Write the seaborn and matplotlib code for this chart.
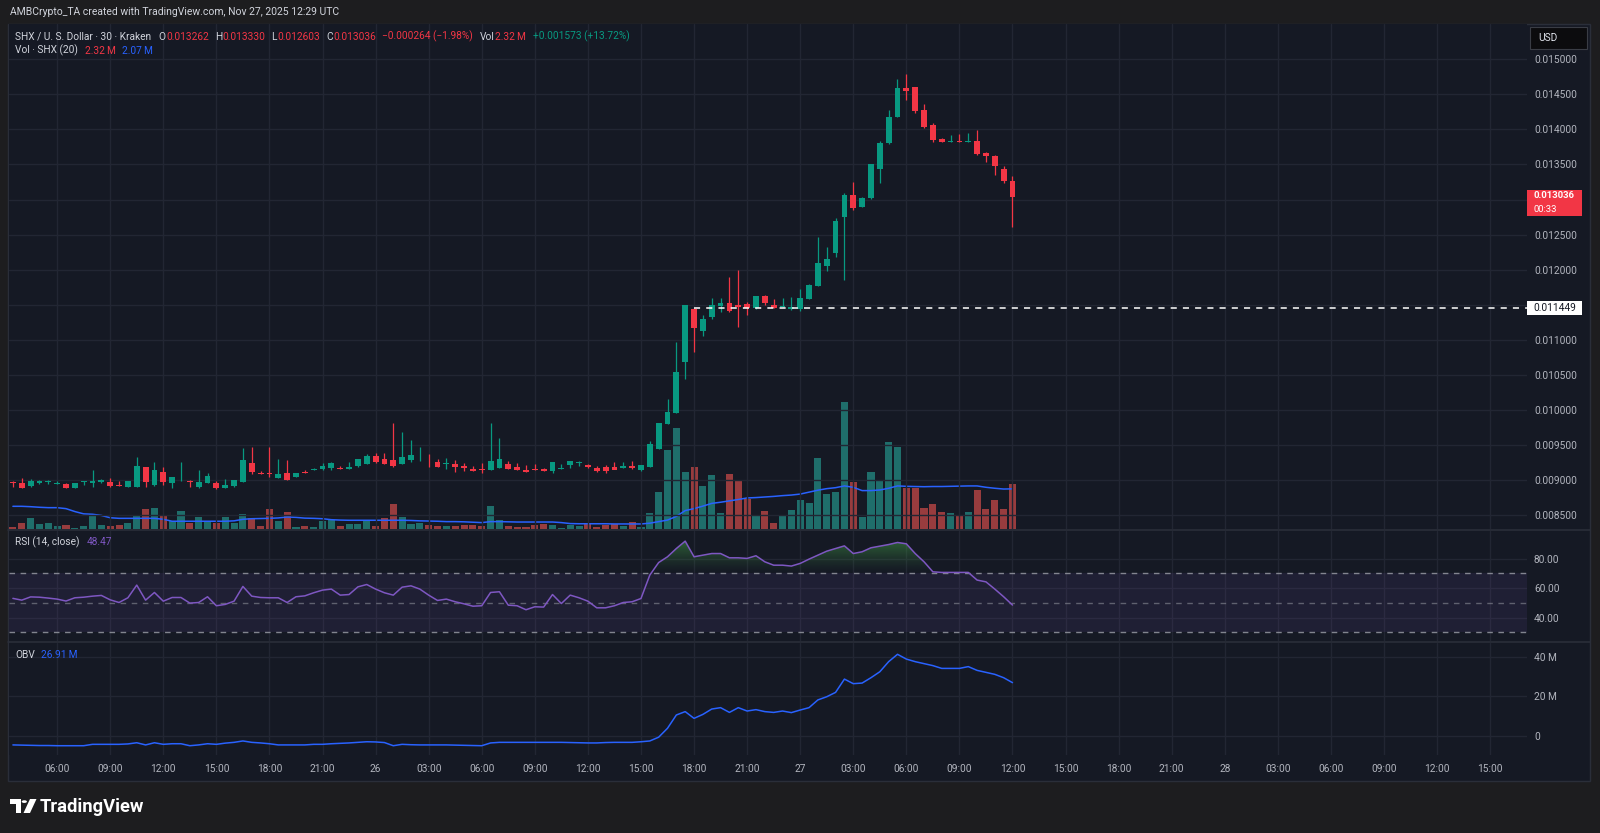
import numpy as np
import pandas as pd
import matplotlib
matplotlib.use("Agg")
import matplotlib.pyplot as plt
import matplotlib.dates as mdates
from matplotlib.patches import Rectangle, Circle, Polygon
from matplotlib.path import Path
import seaborn as sns

# ---------------- data ----------------
start_time = "2025-11-25 03:30"
opens = [0.008960, 0.008965, 0.008913, 0.008956, 0.008975, 0.008951, 0.008951, 0.008894, 0.008970, 0.008965,
         0.008970, 0.008975, 0.008927, 0.008908, 0.008908, 0.009184, 0.008937, 0.009122, 0.008960, 0.009041,
         0.008980, 0.008899, 0.008960, 0.008960, 0.008889, 0.008922, 0.008975, 0.009245, 0.009103, 0.009098,
         0.009036, 0.009098, 0.009041, 0.009122, 0.009146, 0.009155, 0.009169, 0.009179, 0.009160, 0.009208,
         0.009231, 0.009345, 0.009307, 0.009288, 0.009231, 0.009288, 0.009326, 0.009279, 0.009255, 0.009231,
         0.009231, 0.009208, 0.009160, 0.009155, 0.009146, 0.009179, 0.009231, 0.009193, 0.009150, 0.009155,
         0.009160, 0.009136, 0.009165, 0.009217, 0.009241, 0.009222, 0.009174, 0.009184, 0.009184, 0.009179,
         0.009198, 0.009146, 0.009193, 0.009445, 0.009806, 0.009963, 0.010689, 0.011435, 0.011131, 0.011321,
         0.011483, 0.011531, 0.011498, 0.011507, 0.011450, 0.011631, 0.011493, 0.011474, 0.011436, 0.011436,
         0.011583, 0.011768, 0.012058, 0.012244, 0.012757, 0.013065, 0.012899, 0.013027, 0.013431, 0.013801,
         0.014182, 0.014585, 0.014599, 0.014276, 0.014063, 0.013868, 0.013821, 0.013835, 0.013821, 0.013835,
         0.013659, 0.013626, 0.013431, 0.013262]
highs = [0.008993, 0.009027, 0.009013, 0.009003, 0.009003, 0.008989, 0.008960, 0.008965, 0.008994, 0.009146,
         0.009022, 0.009027, 0.008984, 0.008984, 0.009336, 0.009193, 0.009264, 0.009193, 0.009046, 0.009255,
         0.009003, 0.009146, 0.009098, 0.008994, 0.009013, 0.009003, 0.009454, 0.009468, 0.009131, 0.009478,
         0.009302, 0.009288, 0.009098, 0.009146, 0.009170, 0.009241, 0.009264, 0.009203, 0.009260, 0.009302,
         0.009374, 0.009393, 0.009393, 0.009820, 0.009682, 0.009573, 0.009478, 0.009374, 0.009302, 0.009312,
         0.009288, 0.009241, 0.009203, 0.009241, 0.009811, 0.009597, 0.009279, 0.009241, 0.009217, 0.009231,
         0.009170, 0.009255, 0.009226, 0.009269, 0.009274, 0.009226, 0.009203, 0.009217, 0.009260, 0.009264,
         0.009274, 0.009217, 0.009554, 0.009820, 0.010153, 0.010970, 0.011500, 0.011454, 0.011354, 0.011592,
         0.011593, 0.011892, 0.011996, 0.011536, 0.011631, 0.011636, 0.011583, 0.011593, 0.011617, 0.011726,
         0.011790, 0.012471, 0.012319, 0.012733, 0.013099, 0.013246, 0.013036, 0.013512, 0.013839, 0.014276,
         0.014718, 0.014789, 0.014610, 0.014362, 0.014087, 0.013875, 0.013920, 0.013934, 0.013944, 0.013991,
         0.013678, 0.013640, 0.013478, 0.013330]
lows = [0.008908, 0.008884, 0.008908, 0.008951, 0.008941, 0.008946, 0.008884, 0.008889, 0.008932, 0.008908,
        0.008965, 0.008908, 0.008913, 0.008903, 0.008903, 0.008908, 0.008918, 0.008927, 0.008894, 0.008984,
        0.008908, 0.008894, 0.008955, 0.008880, 0.008884, 0.008908, 0.008970, 0.009084, 0.009084, 0.009041,
        0.009036, 0.009003, 0.009041, 0.009098, 0.009146, 0.009150, 0.009146, 0.009160, 0.009155, 0.009193,
        0.009226, 0.009250, 0.009236, 0.009193, 0.009226, 0.009264, 0.009279, 0.009193, 0.009193, 0.009165,
        0.009122, 0.009136, 0.009136, 0.009108, 0.009141, 0.009174, 0.009160, 0.009141, 0.009122, 0.009146,
        0.009136, 0.009098, 0.009160, 0.009169, 0.009207, 0.009169, 0.009112, 0.009108, 0.009179, 0.009174,
        0.009155, 0.009131, 0.009184, 0.009440, 0.009806, 0.009958, 0.010438, 0.010832, 0.011060, 0.011293,
        0.011393, 0.011400, 0.011188, 0.011355, 0.011445, 0.011498, 0.011450, 0.011470, 0.011430, 0.011417,
        0.011578, 0.011763, 0.011987, 0.012187, 0.011854, 0.012852, 0.012894, 0.013004, 0.013241, 0.013796,
        0.014177, 0.014419, 0.014229, 0.014015, 0.013825, 0.013816, 0.013816, 0.013816, 0.013816, 0.013635,
        0.013540, 0.013350, 0.013241, 0.012603]
closes = [0.008956, 0.008889, 0.008989, 0.008989, 0.008980, 0.008956, 0.008889, 0.008960, 0.008975, 0.008984,
          0.009008, 0.008922, 0.008918, 0.008984, 0.009207, 0.008975, 0.009146, 0.008975, 0.009046, 0.009046,
          0.008975, 0.008975, 0.009060, 0.008884, 0.008937, 0.008998, 0.009283, 0.009112, 0.009089, 0.009084,
          0.009084, 0.009008, 0.009098, 0.009098, 0.009160, 0.009207, 0.009245, 0.009160, 0.009184, 0.009302,
          0.009345, 0.009264, 0.009236, 0.009203, 0.009326, 0.009359, 0.009331, 0.009269, 0.009193, 0.009236,
          0.009184, 0.009169, 0.009136, 0.009150, 0.009279, 0.009302, 0.009160, 0.009146, 0.009122, 0.009146,
          0.009136, 0.009255, 0.009179, 0.009269, 0.009245, 0.009184, 0.009136, 0.009131, 0.009146, 0.009198,
          0.009179, 0.009217, 0.009516, 0.009810, 0.009972, 0.010547, 0.011492, 0.011174, 0.011293, 0.011502,
          0.011530, 0.011417, 0.011474, 0.011450, 0.011631, 0.011531, 0.011455, 0.011483, 0.011474, 0.011597,
          0.011783, 0.012101, 0.012153, 0.012695, 0.013065, 0.012885, 0.013027, 0.013507, 0.013811, 0.014182,
          0.014585, 0.014552, 0.014267, 0.014039, 0.013849, 0.013821, 0.013835, 0.013821, 0.013835, 0.013645,
          0.013626, 0.013483, 0.013262, 0.013036]
volumes_m = [0.09, 0.29, 0.55, 0.24, 0.29, 0.14, 0.19, 0.07, 0.14, 0.77,
             0.19, 0.14, 0.19, 0.29, 0.74, 1.01, 1.10, 0.74, 0.40, 0.91,
             0.33, 0.60, 0.43, 0.33, 0.60, 0.33, 0.77, 0.58, 0.14, 1.01,
             0.40, 0.86, 0.09, 0.14, 0.09, 0.40, 0.48, 0.14, 0.24, 0.24,
             0.40, 0.14, 0.55, 1.31, 0.60, 0.24, 0.33, 0.19, 0.14, 0.14,
             0.14, 0.19, 0.19, 0.14, 1.17, 0.45, 0.14, 0.09, 0.09, 0.19,
             0.24, 0.19, 0.05, 0.19, 0.14, 0.24, 0.09, 0.19, 0.24, 0.14,
             0.36, 0.09, 0.84, 1.91, 4.07, 5.21, 2.94, 3.21, 2.22, 2.80,
             0.84, 2.82, 2.46, 1.56, 0.74, 0.93, 0.30, 0.74, 0.98, 1.51,
             1.34, 3.66, 1.82, 1.91, 6.55, 2.42, 0.60, 2.94, 2.54, 4.47,
             4.21, 2.10, 2.10, 1.07, 1.29, 0.89, 0.84, 0.70, 0.88, 2.01,
             1.03, 1.48, 1.03, 2.32]
vol_ma_m = [1.17, 1.17, 1.15, 1.12, 1.10, 1.10, 1.05, 0.90, 0.78, 0.76,
            0.70, 0.58, 0.55, 0.55, 0.55, 0.55, 0.55, 0.50, 0.40, 0.40,
            0.40, 0.40, 0.40, 0.40, 0.40, 0.42, 0.50, 0.53, 0.54, 0.55,
            0.57, 0.62, 0.60, 0.56, 0.55, 0.53, 0.48, 0.46, 0.45, 0.45,
            0.45, 0.45, 0.45, 0.45, 0.45, 0.44, 0.42, 0.41, 0.40, 0.38,
            0.38, 0.37, 0.35, 0.33, 0.38, 0.38, 0.37, 0.36, 0.36, 0.36,
            0.36, 0.36, 0.33, 0.28, 0.27, 0.27, 0.27, 0.27, 0.26, 0.26,
            0.26, 0.26, 0.30, 0.38, 0.46, 0.65, 0.95, 1.05, 1.18, 1.32,
            1.38, 1.45, 1.52, 1.60, 1.62, 1.65, 1.68, 1.72, 1.75, 1.80,
            1.90, 2.00, 2.08, 2.13, 2.22, 2.15, 1.98, 1.98, 2.01, 2.10,
            2.22, 2.20, 2.19, 2.18, 2.19, 2.19, 2.20, 2.21, 2.22, 2.22,
            2.15, 2.10, 2.06, 2.07]
rsi = [53.0, 51.8, 54.0, 53.8, 53.2, 52.5, 51.2, 53.4, 53.8, 54.5,
       55.0, 52.0, 50.2, 53.4, 62.0, 51.8, 57.0, 51.1, 53.6, 53.6,
       49.8, 50.2, 54.1, 48.0, 48.9, 51.1, 61.1, 54.5, 53.6, 53.4,
       53.4, 50.2, 54.1, 54.7, 56.8, 58.6, 59.3, 55.2, 55.6, 60.8,
       62.4, 59.3, 56.8, 55.2, 60.6, 61.5, 59.3, 55.2, 51.6, 52.5,
       50.7, 49.3, 47.7, 48.0, 57.0, 57.5, 48.4, 48.0, 45.3, 47.3,
       47.1, 55.6, 49.5, 55.2, 53.4, 51.1, 46.6, 46.6, 48.0, 50.2,
       50.7, 52.9, 68.8, 77.3, 81.2, 86.8, 91.8, 81.2, 82.3, 83.4,
       83.4, 80.5, 80.5, 80.1, 81.9, 77.8, 75.5, 75.5, 74.9, 76.7,
       79.6, 82.3, 85.0, 86.8, 88.6, 83.4, 84.6, 87.3, 88.4, 89.5,
       90.9, 90.0, 83.4, 77.8, 71.0, 70.6, 70.6, 70.6, 70.6, 65.4,
       64.2, 59.3, 54.1, 48.47]
obv_m = [-4.5, -4.6, -4.7, -4.8, -4.8, -4.9, -4.9, -4.9, -4.9, -4.2,
         -4.2, -4.2, -4.2, -4.0, -3.4, -4.5, -3.4, -4.2, -3.9, -3.9,
         -4.9, -4.5, -3.9, -4.2, -3.6, -3.2, -2.5, -3.2, -3.5, -3.9,
         -4.5, -4.5, -4.5, -4.5, -4.2, -4.2, -3.9, -3.7, -3.5, -3.2,
         -2.9, -3.0, -3.3, -4.9, -4.2, -4.4, -4.5, -4.5, -4.5, -4.5,
         -4.6, -4.7, -4.8, -4.9, -3.5, -3.2, -3.2, -3.2, -3.2, -3.2,
         -3.2, -3.2, -3.2, -3.3, -3.4, -3.5, -3.5, -3.3, -3.2, -3.2,
         -3.2, -2.9, -2.5, -0.6, 3.9, 10.6, 12.3, 8.9, 10.9, 13.6,
         14.3, 11.9, 14.3, 12.6, 13.3, 12.3, 11.9, 12.6, 11.8, 13.1,
         14.3, 18.2, 19.8, 22.0, 28.7, 26.4, 26.7, 29.4, 32.4, 37.5,
         41.2, 38.8, 37.5, 36.5, 35.5, 34.1, 34.1, 34.1, 35.0, 33.1,
         32.1, 31.1, 29.4, 26.91]

price_ticks = [0.0085, 0.0090, 0.0095, 0.0100, 0.0105, 0.0110, 0.0115, 0.0120,
               0.0125, 0.0130, 0.0135, 0.0140, 0.0145, 0.0150]
rsi_ticks = [40, 60, 80]
rsi_levels = [70, 50, 30]
obv_ticks = [0, 20, 40]
obv_tick_labels = ["0", "20 M", "40 M"]
time_tick_start = "2025-11-25 06:00"
time_tick_labels = ["06:00", "09:00", "12:00", "15:00", "18:00", "21:00", "26",
                    "03:00", "06:00", "09:00", "12:00", "15:00", "18:00", "21:00", "27",
                    "03:00", "06:00", "09:00", "12:00", "15:00", "18:00", "21:00", "28",
                    "03:00", "06:00", "09:00", "12:00", "15:00"]
hline_level = 0.011449
hline_start = "2025-11-26 18:00"
last_price = 0.013036
countdown = "00:33"

header_text = "AMBCrypto_TA created with TradingView.com, Nov 27, 2025 12:29 UTC"
symbol_text = "SHX / U. S. Dollar \u00b7 30 \u00b7 Kraken"
ohlc_text = [("O", "0.013262"), ("H", "0.013330"), ("L", "0.012603"), ("C", "0.013036")]
change_text = "\u22120.000264 (\u22121.98%)"
vol_text = "2.32\u2009M"
day_change_text = "+0.001573 (+13.72%)"
vol_ind_text = "Vol \u00b7 SHX (20)"
vol_ind_values = ["2.32\u2009M", "2.07\u2009M"]
rsi_title = "RSI (14, close)"
rsi_value = "48.47"
obv_title = "OBV"
obv_value = "26.91\u2009M"

# ---------------- style ----------------
sns.set_theme(style="dark")
plt.rcParams['font.family'] = ['Roboto', 'DejaVu Sans']
plt.rcParams['axes.unicode_minus'] = False

BG_OUT = '#1d1d1f'
BG = '#151924'
GRID = '#222633'
SEP = '#2a2e39'
TXT = '#b2b5be'
LEG = '#d1d4dc'
UP = '#089981'
DOWN = '#f23645'
VUP = '#1f6e6b'
VDOWN = '#983c3e'
BLUE = '#2962ff'
PURPLE = '#7e57c2'
FS = 7.3

W, H = 1600, 833
fig = plt.figure(figsize=(W / 100, H / 100), dpi=100)
fig.patch.set_facecolor(BG_OUT)


def fx(X):
    return X / W


def fy(Y):
    return 1 - Y / H


def rect(x0, y0, x1, y1):
    return [fx(x0), fy(y1), (x1 - x0) / W, (y1 - y0) / H]


# chart frame
fig.add_artist(Rectangle((fx(8), fy(781)), (1590 - 8) / W, (781 - 23.5) / H,
                         transform=fig.transFigure, facecolor=BG, edgecolor=SEP,
                         lw=1.0, zorder=-10))

PX0, PX1 = 8.5, 1527
MAIN_T, MAIN_B = 24, 529
RSI_T, RSI_B = 530.5, 641
OBV_T, OBV_B = 642.5, 755

ax_vol = fig.add_axes(rect(PX0, MAIN_T, PX1, MAIN_B))
ax_main = fig.add_axes(rect(PX0, MAIN_T, PX1, MAIN_B), sharex=ax_vol)
ax_rsi = fig.add_axes(rect(PX0, RSI_T, PX1, RSI_B), sharex=ax_vol)
ax_obv = fig.add_axes(rect(PX0, OBV_T, PX1, OBV_B), sharex=ax_vol)

ax_vol.set_facecolor(BG)
ax_main.set_facecolor('none')
ax_rsi.set_facecolor(BG)
ax_obv.set_facecolor(BG)

times = pd.date_range(start_time, periods=len(opens), freq="30min")
x = mdates.date2num(times)
step = x[1] - x[0]
o = np.array(opens)
h = np.array(highs)
l = np.array(lows)
c = np.array(closes)
up = c >= o
cols = np.where(up, UP, DOWN)
vcols = np.where(up, VUP, VDOWN)


# pixel -> x data (first candle centre at X=12.9 px, 8.846 px per candle)
def xdata(X):
    return x[0] + (X - 12.9) / 8.846 * step


xl = (xdata(PX0), xdata(PX1))

# volume
ax_vol.bar(x, volumes_m, width=0.8 * step, color=vcols, lw=0, zorder=2)
sns.lineplot(x=x, y=vol_ma_m, ax=ax_vol, color=BLUE, lw=1.1, zorder=3)
ax_vol.set_ylim(0, (MAIN_B - MAIN_T) / 19.4)

# candles
ax_main.vlines(x, l, h, colors=cols, lw=0.9, zorder=3)
body = np.maximum(np.abs(c - o), 0.000012)
ax_main.bar(x, body, bottom=np.minimum(o, c), width=0.66 * step, color=cols, lw=0, zorder=4)
ax_main.hlines(hline_level, mdates.date2num(pd.Timestamp(hline_start)), xl[1],
               colors='white', linestyles=(0, (4, 4)), lw=1.1, zorder=5)
ax_main.set_ylim(0.015 - (MAIN_B - 59.2) * 1.4251e-5, 0.015 + (59.2 - MAIN_T) * 1.4251e-5)

# RSI
rs = np.array(rsi)
ax_rsi.axhspan(30, 70, color=PURPLE, alpha=0.10, lw=0, zorder=1)
for lev, al in zip(rsi_levels, [0.85, 0.55, 0.85]):
    ax_rsi.axhline(lev, color='#9598a1', alpha=al, lw=1.0, ls=(0, (4, 4)), zorder=2)
poly = ax_rsi.fill_between(x, 70, rs, where=rs >= 70, interpolate=True,
                           facecolor='none', edgecolor='none')
clip = Path.make_compound_path(*poly.get_paths())
grad = np.zeros((256, 1, 4))
grad[:, 0, :3] = np.array([67, 160, 71]) / 255.0
grad[:, 0, 3] = np.linspace(0.0, 0.62, 256) ** 1.3
img = ax_rsi.imshow(grad, extent=[x[0], x[-1], 70, 92], origin='lower', aspect='auto', zorder=2.5)
img.set_clip_path(clip, transform=ax_rsi.transData)
sns.lineplot(x=x, y=rs, ax=ax_rsi, color=PURPLE, lw=1.1, zorder=4)
ax_rsi.set_ylim(30 - (RSI_B - 632.3) / 1.475, 70 + (573.3 - RSI_T) / 1.475)

# OBV
sns.lineplot(x=x, y=obv_m, ax=ax_obv, color=BLUE, lw=1.1, zorder=4)
ax_obv.set_ylim(-(OBV_B - 736) / 1.983, 40 + (656.7 - OBV_T) / 1.983)

# axes cosmetics
tick_x = mdates.date2num(pd.date_range(time_tick_start, periods=len(time_tick_labels), freq="3h"))
for ax in (ax_vol, ax_main, ax_rsi, ax_obv):
    for s in ax.spines.values():
        s.set_visible(False)
    ax.set_xlabel('')
    ax.set_ylabel('')
    ax.set_xlim(*xl)
ax_obv.set_xticks(tick_x)
ax_obv.set_xticklabels(time_tick_labels)
ax_obv.tick_params(axis='x', length=0, pad=6.3, labelsize=FS, labelcolor=TXT)
for ax in (ax_vol, ax_main, ax_rsi):
    ax.tick_params(axis='x', labelbottom=False, length=0)
ax_vol.set_yticks([])
ax_vol.grid(False)

ax_main.yaxis.tick_right()
ax_main.set_yticks(price_ticks)
# the tick label hidden under the last-price badge is left blank, as in the reference
ax_main.set_yticklabels(["" if abs(p - last_price) < 0.0002 else f"{p:.6f}" for p in price_ticks])
ax_rsi.yaxis.tick_right()
ax_rsi.set_yticks(rsi_ticks)
ax_rsi.set_yticklabels([f"{v:.2f}" for v in rsi_ticks])
ax_obv.yaxis.tick_right()
ax_obv.set_yticks(obv_ticks)
ax_obv.set_yticklabels(obv_tick_labels)
for ax in (ax_main, ax_rsi, ax_obv):
    ax.tick_params(axis='y', length=0, pad=5, labelsize=FS, labelcolor=TXT)
    ax.grid(True, color=GRID, lw=1.0)
    ax.set_axisbelow(True)

# panel separators
for Y in (529.7, 641.7):
    fig.add_artist(plt.Line2D([fx(8), fx(1590)], [fy(Y), fy(Y)], transform=fig.transFigure,
                              color=SEP, lw=1.2))

# ---------------- texts ----------------
renderer = fig.canvas.get_renderer()


def seq_text(X, Y, parts, size=FS):
    for s, col, gap in parts:
        t = fig.text(fx(X), fy(Y), s, color=col, fontsize=size, ha='left', va='center')
        X += t.get_window_extent(renderer).width + gap


fig.text(fx(10), fy(12.2), header_text, color=LEG, fontsize=7.5, ha='left', va='center')

parts = [(symbol_text, LEG, 7)]
for k, v in ohlc_text:
    parts += [(k, LEG, 0.5), (v, DOWN, 6)]
parts += [(change_text, DOWN, 7), ("Vol", LEG, 0.5), (vol_text, DOWN, 7), (day_change_text, UP, 0)]
seq_text(15.3, 36.7, parts)
seq_text(15.3, 50.5, [(vol_ind_text, LEG, 7), (vol_ind_values[0], DOWN, 6), (vol_ind_values[1], BLUE, 0)])
seq_text(15.3, 542, [(rsi_title, LEG, 7), (rsi_value, PURPLE, 0)])
seq_text(15.3, 655, [(obv_title, LEG, 6), (obv_value, BLUE, 0)])


# price-axis labels
def price_y(p):
    return H - ax_main.transData.transform((x[0], p))[1]


yl = price_y(last_price)
fig.add_artist(Rectangle((fx(1527), fy(yl + 19)), 55 / W, 26.5 / H, transform=fig.transFigure,
                         facecolor=DOWN, edgecolor='none', zorder=5))
fig.text(fx(1533), fy(yl - 1.5), f"{last_price:.6f}", color='white', fontsize=6.8, fontweight='bold',
         ha='left', va='center', zorder=6)
fig.text(fx(1533), fy(yl + 12), countdown, color='white', fontsize=6.8, ha='left', va='center', zorder=6)

yh = price_y(hline_level)
fig.add_artist(Rectangle((fx(1527), fy(yh + 7)), 55 / W, 14 / H, transform=fig.transFigure,
                         facecolor='white', edgecolor='none', zorder=5))
fig.text(fx(1533), fy(yh), f"{hline_level:.6f}", color='#131722', fontsize=FS,
         ha='left', va='center', zorder=6)

# USD box
fig.add_artist(Rectangle((fx(1530), fy(49)), 57 / W, 21.5 / H, transform=fig.transFigure,
                         facecolor='#0c0c0e', edgecolor='#3a3d45', lw=0.8, zorder=5))
fig.text(fx(1538), fy(38.3), "USD", color='#e0e3eb', fontsize=FS, ha='left', va='center', zorder=6)

# TradingView logo + wordmark
fig.add_artist(Polygon([(fx(10), fy(799)), (fx(20.5), fy(799)), (fx(20.5), fy(813)),
                        (fx(15.5), fy(813)), (fx(15.5), fy(804)), (fx(10), fy(804))],
                       closed=True, transform=fig.transFigure, facecolor='white', edgecolor='none'))
fig.add_artist(Circle((fx(24.3), fy(801.6)), 2.6 / W, transform=fig.transFigure,
                      facecolor='white', edgecolor='none'))
fig.add_artist(Polygon([(fx(30), fy(799)), (fx(36.5), fy(799)), (fx(30), fy(813)), (fx(23.5), fy(813))],
                       closed=True, transform=fig.transFigure, facecolor='white', edgecolor='none'))
fig.text(fx(39.5), fy(806.5), "TradingView", color='white', fontsize=13.2, fontweight='bold',
         ha='left', va='center')

fig.savefig("out.png", dpi=100, facecolor=fig.get_facecolor())
